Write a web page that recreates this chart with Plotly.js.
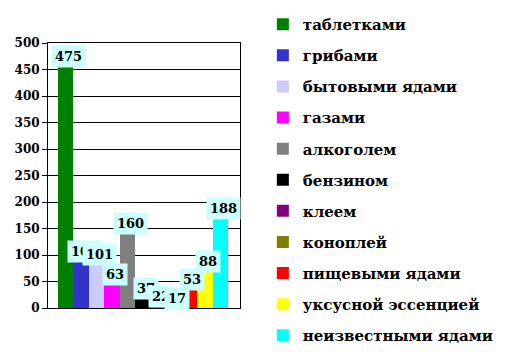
<!DOCTYPE html>
<html><head><meta charset="utf-8">
<script src="https://cdn.plot.ly/plotly-3.0.1.min.js"></script>
<style>html,body{margin:0;padding:0;background:#fff}#chart{width:529px;height:352px}</style>
</head><body><div id="chart"></div>
<script>
const categories = ["таблетками","грибами","бытовыми ядами","газами","алкоголем","бензином","клеем","коноплей","пищевыми ядами","уксусной эссенцией","неизвестными ядами"];
const values = [475,107,101,63,160,37,22,17,53,88,188];
const colors = ["#008000","#3333CC","#CCCCFF","#FF00FF","#808080","#000000","#800080","#808000","#FF0000","#FFFF00","#00FFFF"];
const yTicks = [0,50,100,150,200,250,300,350,400,450,500];

const serif = "DejaVu Serif";
const traces = categories.map((c,i)=>({
  type:'bar', name:c, x:[c], y:[values[i]], width:1,
  marker:{color:colors[i], line:{width:0}},
  legendgroup:'g'+i, hoverinfo:'skip'
}));
const annotations = categories.map((c,i)=>({
  x:c, y:values[i], xref:'x', yref:'y', text:'<b>'+values[i]+'</b>', showarrow:false,
  bgcolor:'#CCFFFF', borderpad:3, xshift:3,
  font:{family:serif, size:13, color:'#000'}
}));
const layout = {
  width:529, height:352,
  font:{family:serif},
  margin:{l:48, r:289, t:43, b:44},
  paper_bgcolor:'#fff', plot_bgcolor:'#fff',
  barmode:'overlay', bargap:0,
  showlegend:true,
  legend:{x:1.119, xanchor:'left', y:1.095, yanchor:'top', tracegroupgap:8.6, maxheight:352,
    font:{family:serif, size:15, color:'#000', weight:'bold'}, bgcolor:'rgba(0,0,0,0)'},
  xaxis:{type:'category', range:[-1.15, 11.28], showticklabels:false, showgrid:false,
    zeroline:false, showline:true, linecolor:'#000', linewidth:1, mirror:true, ticks:''},
  yaxis:{range:[0,500], tickvals:yTicks, ticktext:yTicks.map(v=>'<b>'+v+'</b>'), ticks:'outside', ticklen:5, tickcolor:'#000',
    showgrid:true, gridcolor:'#000', gridwidth:1, zeroline:false,
    showline:true, linecolor:'#000', linewidth:1, mirror:true,
    tickfont:{family:serif, size:12, color:'#000'}},
  annotations:annotations
};
Plotly.newPlot('chart', traces, layout, {staticPlot:true, displayModeBar:false});
</script></body></html>
